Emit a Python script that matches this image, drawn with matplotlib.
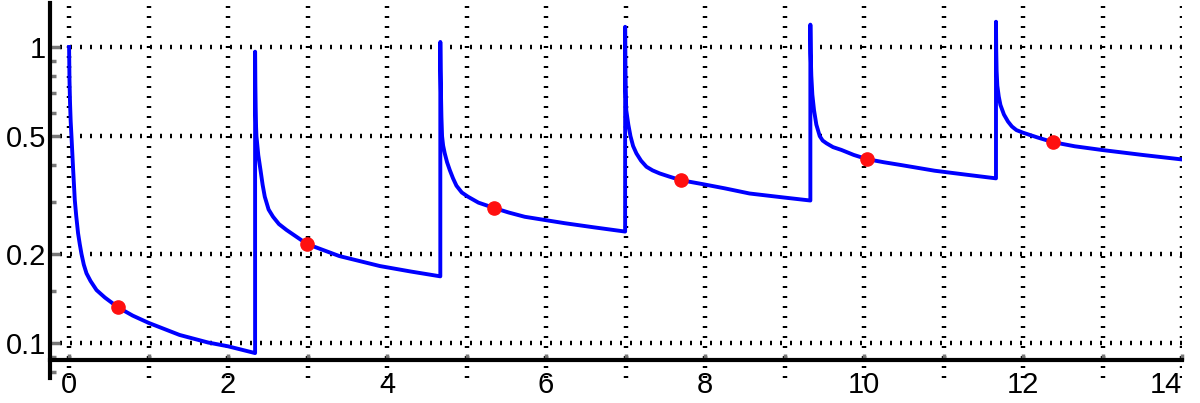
import matplotlib
matplotlib.use("Agg")
import matplotlib.pyplot as plt
from matplotlib.ticker import FixedLocator, NullFormatter

plt.rcParams['font.family'] = ['Liberation Sans', 'DejaVu Sans']

# curve, one list per dosing interval
seg1_x = [0.0, 0.005, 0.012, 0.02, 0.03, 0.05, 0.072, 0.09, 0.113, 0.135, 0.156, 0.185,
          0.219, 0.27, 0.345, 0.45, 0.616, 0.8, 1.0, 1.39, 1.75, 2.0, 2.34]
seg1_y = [1.0, 0.774, 0.647, 0.562, 0.50, 0.39, 0.304, 0.2685, 0.235, 0.2153, 0.20, 0.1841,
          0.172, 0.162, 0.151, 0.1425, 0.132, 0.1238, 0.117, 0.1065, 0.1004, 0.0975, 0.0925]

seg2_x = [2.34, 2.343, 2.347, 2.351, 2.357, 2.38, 2.408, 2.435, 2.462, 2.51, 2.566, 2.64,
          2.735, 2.994, 3.4, 3.91, 4.3, 4.67]
seg2_y = [0.964, 0.744, 0.622, 0.5495, 0.50, 0.4316, 0.384, 0.342, 0.312, 0.2825, 0.267, 0.2523,
          0.241, 0.216, 0.1967, 0.182, 0.1744, 0.168]

seg3_x = [4.67, 4.673, 4.678, 4.684, 4.692, 4.705, 4.726, 4.755, 4.789, 4.83, 4.873, 4.94,
          5.019, 5.15, 5.346, 5.53, 5.732, 6.0, 6.235, 6.6, 6.995]
seg3_y = [1.04, 0.84, 0.70, 0.58, 0.50, 0.465, 0.437, 0.408, 0.384, 0.36, 0.34, 0.3225,
          0.312, 0.298, 0.286, 0.276, 0.267, 0.260, 0.254, 0.246, 0.238]

seg4_x = [6.995, 6.998, 7.002, 7.009, 7.035, 7.062, 7.095, 7.137, 7.195, 7.263, 7.34, 7.43,
          7.55, 7.694, 7.975, 8.25, 8.56, 9.0, 9.325]
seg4_y = [1.17, 0.85, 0.72, 0.612, 0.547, 0.50, 0.463, 0.437, 0.413, 0.394, 0.383, 0.374,
          0.365, 0.355, 0.344, 0.333, 0.320, 0.310, 0.303]

seg5_x = [9.325, 9.329, 9.337, 9.35, 9.371, 9.40, 9.443, 9.48, 9.527, 9.61, 9.716, 9.87,
          10.038, 10.25, 10.448, 10.889, 11.3, 11.66]
seg5_y = [1.19, 0.95, 0.80, 0.69, 0.612, 0.547, 0.50, 0.483, 0.473, 0.459, 0.449, 0.432,
          0.418, 0.408, 0.400, 0.382, 0.370, 0.360]

seg6_x = [11.66, 11.663, 11.668, 11.677, 11.695, 11.716, 11.76, 11.811, 11.86, 11.917, 12.0,
          12.18, 12.378, 12.65, 12.99, 13.5, 14.0]
seg6_y = [1.217, 0.98, 0.83, 0.74, 0.68, 0.637, 0.5915, 0.56, 0.539, 0.524, 0.5135,
          0.495, 0.477, 0.462, 0.449, 0.432, 0.417]

dots_x = [0.616, 2.994, 5.346, 7.694, 10.038, 12.378]
dots_y = [0.132, 0.216, 0.286, 0.355, 0.418, 0.477]

x_ticks = list(range(0, 15))
x_labels = [str(v) if v % 2 == 0 else '' for v in x_ticks]
y_ticks = [0.1, 0.2, 0.5, 1.0]
y_labels = ['0.1', '0.2', '0.5', '1']
y_minor = [0.08, 0.09, 0.15, 0.3, 0.4, 0.6, 0.7, 0.8, 0.9]

curve_x = seg1_x + seg2_x + seg3_x + seg4_x + seg5_x + seg6_x
curve_y = seg1_y + seg2_y + seg3_y + seg4_y + seg5_y + seg6_y

fig = plt.figure(figsize=(12, 4.03), dpi=100)
ax = fig.add_axes([50 / 1200, 25 / 403, 1132 / 1200, 375 / 403])
ax.set_yscale('log')
ax.set_xlim(-0.24, 14.0)
ax.set_ylim(0.0762, 1.408)

grid_style = dict(color='black', linewidth=3.2, linestyle=(0, (0.45, 1.8)),
                  dash_capstyle='butt', zorder=1)
for gx in x_ticks:
    ax.axvline(gx, **grid_style)
for gy in y_ticks:
    ax.axhline(gy, **grid_style)

ax.plot(curve_x, curve_y, color='#0000ff', linewidth=2.8, zorder=3,
        solid_joinstyle='round')
ax.plot(dots_x, dots_y, 'o', color='#ff1010', markersize=9.5, zorder=4)

ax.spines['top'].set_visible(False)
ax.spines['right'].set_visible(False)
ax.spines['left'].set_linewidth(3)
ax.spines['bottom'].set_linewidth(3)
ax.spines['bottom'].set_position(('data', 0.0877))
ax.spines['left'].set_zorder(5)
ax.spines['bottom'].set_zorder(5)

ax.set_xticks(x_ticks)
ax.set_xticklabels(x_labels)
ax.get_xticklabels()[-1].set_horizontalalignment('right')
ax.yaxis.set_major_locator(FixedLocator(y_ticks))
ax.set_yticklabels(y_labels)
ax.yaxis.set_minor_locator(FixedLocator(y_minor))
ax.yaxis.set_minor_formatter(NullFormatter())

ax.tick_params(axis='x', direction='in', length=4, width=2.5, color='#777777',
               labelsize=21, pad=8)
ax.tick_params(axis='y', which='major', direction='in', length=7, width=2.5,
               color='#777777', labelsize=21, pad=3)
ax.tick_params(axis='y', which='minor', direction='in', length=4, width=2.5,
               color='#777777')

fig.savefig('out.png', dpi=100)
